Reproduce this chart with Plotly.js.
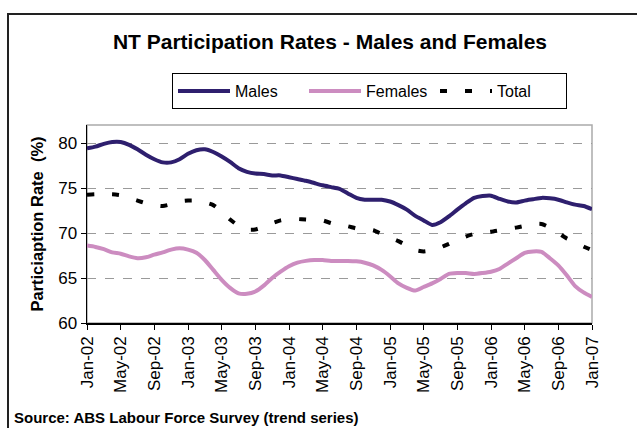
<!DOCTYPE html>
<html>
<head>
<meta charset="utf-8">
<script src="https://cdn.plot.ly/plotly-3.0.1.min.js"></script>
<style>
html,body{margin:0;padding:0;background:#fff;}
#wrap{position:relative;width:637px;height:428px;overflow:hidden;}
#chart{position:absolute;left:0;top:0;width:637px;height:428px;}
#frame{position:absolute;left:7px;top:13px;width:700px;height:500px;border-left:2px solid #222;border-top:2px solid #222;pointer-events:none;}
</style>
</head>
<body>
<div id="wrap"><div id="chart"></div><div id="frame"></div></div>
<script>
const monthNames = ['Jan','Feb','Mar','Apr','May','Jun','Jul','Aug','Sep','Oct','Nov','Dec'];
const years = ['02','03','04','05','06','07'];
const months = [];
years.forEach(y => monthNames.forEach(m => months.push(m + '-' + y)));
months.length = 61; // Jan-02 .. Jan-07

const males = [79.4,79.6,79.9,80.1,80.1,79.8,79.3,78.7,78.2,77.85,
  77.85,78.2,78.8,79.2,79.3,79.0,78.5,77.9,77.2,76.8,
  76.6,76.55,76.4,76.4,76.2,76.0,75.8,75.55,75.3,75.1,
  74.9,74.4,73.9,73.7,73.7,73.7,73.5,73.1,72.6,71.9,
  71.4,70.9,71.2,71.85,72.6,73.3,73.9,74.1,74.15,73.8,
  73.5,73.4,73.6,73.75,73.9,73.85,73.7,73.4,73.15,73.0,72.65];

const females = [68.6,68.45,68.2,67.85,67.7,67.4,67.2,67.3,67.6,67.85,
  68.15,68.3,68.15,67.8,67.0,65.9,64.8,63.9,63.3,63.25,
  63.5,64.15,65.0,65.7,66.3,66.7,66.9,67.0,67.0,66.9,
  66.9,66.9,66.85,66.7,66.4,65.9,65.2,64.4,63.9,63.6,
  64.0,64.4,64.9,65.45,65.55,65.55,65.45,65.55,65.7,66.0,
  66.6,67.2,67.8,67.95,67.9,67.2,66.4,65.3,64.1,63.4,62.9];

const total = [74.25,74.3,74.3,74.3,74.2,73.9,73.6,73.3,73.1,73.0,
  73.2,73.5,73.6,73.6,73.4,73.1,72.4,71.5,70.8,70.4,
  70.4,70.7,71.1,71.4,71.55,71.55,71.5,71.45,71.4,71.1,
  70.9,70.75,70.5,70.4,70.3,69.9,69.5,69.1,68.6,68.1,
  67.95,68.1,68.4,68.8,69.2,69.6,69.9,70.05,70.15,70.3,
  70.45,70.6,70.8,71.0,71.0,70.6,70.0,69.4,69.0,68.5,68.1];

const tickLabels = months.filter((m, i) => i % 4 === 0);

const FONT = 'Liberation Sans, Arial, sans-serif';

const traces = [
  {x: months, y: males, name: 'Males', type: 'scatter', mode: 'lines',
   line: {color: '#2e1f6e', width: 4, shape: 'spline', smoothing: 0.6}},
  {x: months, y: females, name: 'Females', type: 'scatter', mode: 'lines',
   line: {color: '#cc8cc0', width: 4, shape: 'spline', smoothing: 0.6}},
  {x: months, y: total, name: 'Total', type: 'scatter', mode: 'lines',
   line: {color: '#000000', width: 4, dash: '7px,18px', shape: 'spline', smoothing: 0.6}}
];

const layout = {
  width: 637, height: 428,
  margin: {l: 87, r: 45, t: 125, b: 104.7, pad: 0},
  paper_bgcolor: 'rgba(0,0,0,0)',
  plot_bgcolor: '#ffffff',
  font: {family: FONT, color: '#000'},
  title: {
    text: '<b>NT Participation Rates - Males and Females</b>',
    font: {family: FONT, size: 21, color: '#000'},
    xref: 'container', yref: 'container',
    x: 330/637, xanchor: 'center', y: 1 - 42/428, yanchor: 'middle'
  },
  showlegend: true,
  legend: {
    orientation: 'h',
    xref: 'container', yref: 'container',
    x: 172/637, xanchor: 'left', y: 1 - 73/428, yanchor: 'top',
    bordercolor: '#000', borderwidth: 1, bgcolor: '#fff',
    font: {family: FONT, size: 16, color: '#000'},
    entrywidth: 64, entrywidthmode: 'pixels',
    itemwidth: 52, traceorder: 'normal'
  },
  xaxis: {
    type: 'category',
    range: [0, 60],
    tickmode: 'array', tickvals: tickLabels, ticktext: tickLabels,
    tickangle: -90,
    tickfont: {family: FONT, size: 17, color: '#000'},
    ticks: 'outside', ticklen: 5, tickcolor: '#000', tickwidth: 1,
    showline: true, linecolor: '#000', linewidth: 1.5,
    showgrid: false, zeroline: false, fixedrange: true
  },
  yaxis: {
    range: [60, 82],
    tickmode: 'linear', tick0: 60, dtick: 5,
    tickfont: {family: FONT, size: 17, color: '#000'},
    ticks: 'outside', ticklen: 5, tickcolor: '#000', tickwidth: 1,
    showline: true, linecolor: '#000', linewidth: 1.5,
    showgrid: true, gridcolor: '#9a9a9a', griddash: 'dash', gridwidth: 1,
    zeroline: false, fixedrange: true,
    title: {text: '<b>Particiaption Rate  (%)</b>', font: {family: FONT, size: 16.5, color: '#000'}, standoff: 10}
  },
  shapes: [
    {type: 'rect', xref: 'paper', yref: 'paper', x0: 0, x1: 1, y0: 0, y1: 1,
     line: {color: '#aaaaaa', width: 1.5}, layer: 'below'}
  ],
  annotations: [
    {text: '<b>Source: ABS Labour Force Survey (trend series)</b>',
     xref: 'paper', yref: 'paper', x: (12-87)/505, y: (323.3-418)/198.3,
     xanchor: 'left', yanchor: 'middle', showarrow: false,
     font: {family: FONT, size: 15, color: '#000'}}
  ]
};

Plotly.newPlot('chart', traces, layout, {displayModeBar: false, staticPlot: true});
</script>
</body>
</html>
